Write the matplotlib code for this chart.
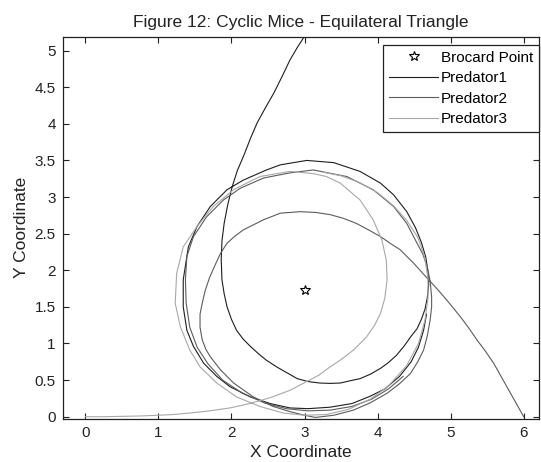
import matplotlib
matplotlib.use("Agg")
import matplotlib.pyplot as plt
from matplotlib.ticker import FuncFormatter

plt.rcParams['font.family'] = ['Liberation Sans', 'DejaVu Sans']

# Brocard point of the equilateral triangle
brocard_x = [3.0]
brocard_y = [1.732]

# Predator 1 starts at the top vertex
pred1_x = [3.00, 2.90, 2.80, 2.69, 2.58, 2.46, 2.35, 2.26, 2.17, 2.08, 2.01, 1.95, 1.90, 1.87, 1.86,
           1.87, 1.90, 1.94, 2.00, 2.07, 2.16, 2.26, 2.37, 2.48, 2.62, 2.76, 2.90, 3.05, 3.21, 3.35,
           3.49, 3.62, 3.76, 3.90, 4.04, 4.15, 4.26, 4.36, 4.46, 4.54, 4.60, 4.65, 4.68, 4.70, 4.69,
           4.66, 4.60, 4.52, 4.40, 4.22, 4.04, 3.76, 3.40, 3.03, 2.67, 2.48, 2.16, 1.94, 1.71, 1.53,
           1.41, 1.34, 1.34, 1.39, 1.48, 1.62, 1.80, 1.98, 2.26, 2.53, 2.80, 3.05, 3.35, 3.65, 3.90,
           4.10, 4.30, 4.46, 4.56, 4.63, 4.67]
pred1_y = [5.196, 5.04, 4.87, 4.64, 4.42, 4.21, 4.01, 3.80, 3.57, 3.36, 3.14, 2.90, 2.64, 2.40, 2.15,
           1.87, 1.68, 1.50, 1.33, 1.18, 1.06, 0.96, 0.86, 0.77, 0.68, 0.60, 0.52, 0.48, 0.46, 0.455,
           0.46, 0.49, 0.52, 0.58, 0.66, 0.74, 0.84, 0.96, 1.10, 1.20, 1.33, 1.47, 1.62, 1.80, 1.98,
           2.18, 2.38, 2.58, 2.80, 3.03, 3.19, 3.35, 3.47, 3.50, 3.44, 3.37, 3.23, 3.10, 2.87, 2.60,
           2.32, 1.87, 1.50, 1.18, 0.96, 0.73, 0.55, 0.41, 0.27, 0.18, 0.12, 0.11, 0.13, 0.18, 0.28,
           0.38, 0.55, 0.75, 0.95, 1.18, 1.40]

# Predator 2 starts at the right vertex
pred2_x = [6.00, 5.95, 5.86, 5.77, 5.68, 5.59, 5.48, 5.36, 5.25, 5.13, 5.04, 4.95, 4.82, 4.70, 4.50,
           4.31, 4.17, 4.04, 3.88, 3.71, 3.53, 3.35, 3.15, 2.94, 2.67, 2.44, 2.30, 2.16, 2.04, 1.94,
           1.85, 1.78, 1.70, 1.64, 1.60, 1.57, 1.57, 1.60, 1.65, 1.71, 1.85, 2.03, 2.30, 2.57, 2.80,
           3.00, 3.15, 3.40, 3.67, 3.90, 4.13, 4.30, 4.45, 4.55, 4.63, 4.68, 4.72, 4.74, 4.74, 4.72,
           4.68, 4.62, 4.54, 4.40, 4.22, 3.94, 3.58, 3.12, 2.80, 2.44, 2.12, 1.89, 1.66, 1.48, 1.39,
           1.37, 1.38, 1.43, 1.53, 1.68, 1.88, 2.15, 2.45, 2.75, 3.05, 3.35, 3.65, 3.92, 4.15, 4.35]
pred2_y = [0.00, 0.09, 0.25, 0.41, 0.57, 0.73, 0.89, 1.05, 1.21, 1.37, 1.48, 1.59, 1.74, 1.87, 2.09,
           2.28, 2.37, 2.46, 2.55, 2.64, 2.71, 2.76, 2.79, 2.80, 2.78, 2.69, 2.62, 2.55, 2.46, 2.37,
           2.23, 2.08, 1.90, 1.72, 1.55, 1.40, 1.22, 1.05, 0.92, 0.82, 0.64, 0.46, 0.27, 0.14, 0.07,
           0.02, -0.01, 0.02, 0.09, 0.19, 0.32, 0.45, 0.59, 0.75, 0.91, 1.10, 1.32, 1.50, 1.64, 1.85,
           2.05, 2.22, 2.37, 2.64, 2.87, 3.10, 3.28, 3.37, 3.33, 3.26, 3.12, 2.96, 2.73, 2.46, 2.19,
           1.87, 1.55, 1.22, 0.95, 0.72, 0.50, 0.32, 0.19, 0.11, 0.08, 0.09, 0.14, 0.24, 0.38, 0.55]

# Predator 3 starts at the left vertex
pred3_x = [0.00, 0.25, 0.50, 0.75, 1.00, 1.20, 1.43, 1.70, 1.98, 2.25, 2.53, 2.80, 3.03, 3.20, 3.35,
           3.50, 3.67, 3.85, 3.96, 4.04, 4.10, 4.13, 4.12, 4.06, 3.94, 3.76, 3.49, 3.30, 3.12, 2.80,
           2.39, 2.03, 1.75, 1.53, 1.34, 1.25, 1.23, 1.30, 1.43, 1.57, 1.80, 2.07, 2.39, 2.71, 3.00,
           3.30, 3.60, 3.90, 4.15, 4.40, 4.56, 4.65, 4.69, 4.69, 4.64, 4.55, 4.40, 4.22, 4.00, 3.75,
           3.50, 3.25]
pred3_y = [0.00, 0.00, 0.005, 0.01, 0.02, 0.03, 0.05, 0.08, 0.12, 0.18, 0.26, 0.36, 0.48, 0.57, 0.68,
           0.78, 0.91, 1.09, 1.25, 1.41, 1.62, 1.87, 2.14, 2.41, 2.69, 2.96, 3.19, 3.28, 3.32, 3.35,
           3.28, 3.10, 2.87, 2.60, 2.32, 1.96, 1.55, 1.23, 0.91, 0.68, 0.46, 0.27, 0.14, 0.05, 0.02,
           0.03, 0.10, 0.24, 0.42, 0.70, 1.00, 1.32, 1.62, 1.90, 2.20, 2.45, 2.68, 2.88, 3.06, 3.20,
           3.29, 3.34]

x_ticks = [0, 1, 2, 3, 4, 5, 6]
y_ticks = [0, 0.5, 1, 1.5, 2, 2.5, 3, 3.5, 4, 4.5, 5]

fig = plt.figure(figsize=(5.41, 4.62), dpi=100)
ax = fig.add_axes([0.1159, 0.0931, 0.8804, 0.8275])

ax.plot(brocard_x, brocard_y, linestyle='none', marker='*', markersize=7,
        markerfacecolor='none', markeredgecolor='black', markeredgewidth=0.8,
        label='Brocard Point')
ax.plot(pred1_x, pred1_y, color='#1e1e1e', lw=0.8, label='Predator1')
ax.plot(pred2_x, pred2_y, color='#5c5c5c', lw=0.8, label='Predator2')
ax.plot(pred3_x, pred3_y, color='#a8a8a8', lw=0.8, label='Predator3')

ax.set_xlim(-0.31, 6.21)
ax.set_ylim(-0.031, 5.19)
ax.set_xticks(x_ticks)
ax.set_yticks(y_ticks)
ax.yaxis.set_major_formatter(FuncFormatter(lambda v, p: f"{v:g}"))
ax.tick_params(direction='in', length=4, width=0.8, top=True, right=True,
               labelsize=11, colors='#222222', pad=5)
for s in ax.spines.values():
    s.set_linewidth(0.9)
    s.set_color('#222222')

ax.set_xlabel('X Coordinate', fontsize=12.5, color='#222222', labelpad=4)
ax.set_ylabel('Y Coordinate', fontsize=12.5, color='#222222', labelpad=4)
ax.set_title('Figure 12: Cyclic Mice - Equilateral Triangle', fontsize=12.5,
             color='#222222', pad=7)

leg = ax.legend(loc='upper right', bbox_to_anchor=(1.0, 0.979), borderaxespad=0,
                fancybox=False, framealpha=1, edgecolor='#222222', fontsize=11,
                handlelength=3.2, handletextpad=0.15, labelspacing=0.42,
                borderpad=0.4, numpoints=1)
leg.get_frame().set_linewidth(0.9)

fig.savefig('out.png', dpi=100)
